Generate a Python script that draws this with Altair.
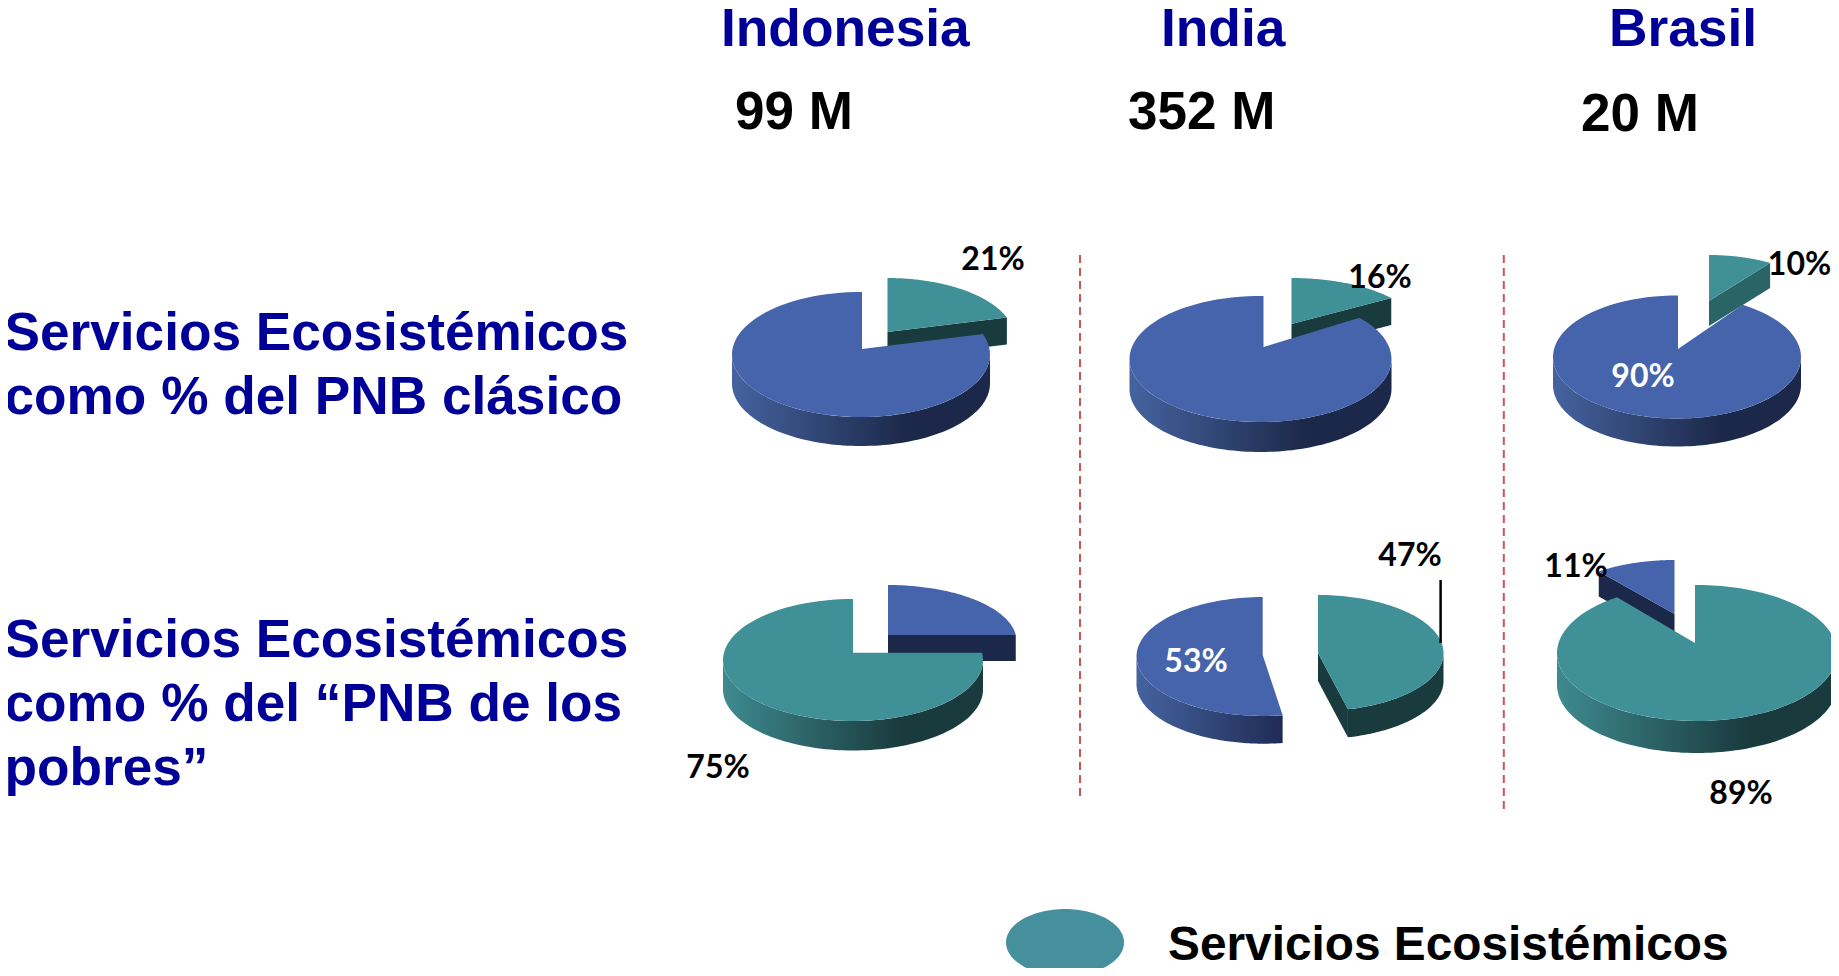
import math
import altair as alt
import pandas as pd

PAGE = 8
COUNTRIES = ["Indonesia", "India", "Brasil"]
POPULATIONS = ["99 M", "352 M", "20 M"]
ROW_TOP = ["Servicios Ecosistémicos", "como % del PNB clásico"]
ROW_BOTTOM = ["Servicios Ecosistémicos", "como % del “PNB de los", "pobres”"]
LEGEND_TEXT = "Servicios Ecosistémicos"

# share of ecosystem services (%) per pie, as printed or implied by the slices
SHARE_CLASSIC = [21, 16, 10]
SHARE_POOR = [25, 47, 89]

BLUE, TEAL = "#4664AB", "#3F9197"
BLUE_D, TEAL_D, TEAL_M = "#1C2849", "#193B3E", "#2A6466"
NAVY = "#000099"
LEGEND_TEAL = "#45909C"
RED = "#CC5555"


def ray_param(pie, a_deg):
    """Ellipse angle hit by the ray leaving the pie vertex at pie angle a."""
    vx, vy, cx, cy, rx, ry = pie[:6]
    a = math.radians(a_deg)
    qx, qy = (vx - cx) / rx, (vy - cy) / ry
    dx, dy = math.sin(a), -math.cos(a)
    qd = qx * dx + qy * dy
    s = -qd + math.sqrt(max(qd * qd - qx * qx - qy * qy + 1, 0))
    t = math.degrees(math.atan2(qx + s * dx, -(qy + s * dy)))
    return t % 360


def pt(pie, t):
    r = math.radians(t)
    return (pie[2] + pie[4] * math.sin(r), pie[3] - pie[5] * math.cos(r))


def arc(pie, t1, t2, n=90):
    return [pt(pie, t1 + (t2 - t1) * i / n) for i in range(n + 1)]


def limits(pie, a1, a2):
    t1 = ray_param(pie, a1 % 360)
    t2 = ray_param(pie, a2 % 360)
    if a1 % 360 == 0 and t1 > 180:
        t1 -= 360
    if t2 <= t1:
        t2 += 360
    return t1, t2


def shape(points, **mark):
    ring = [[x - PAGE, y - PAGE] for x, y in points]
    ring.append(ring[0])
    feature = {"type": "Feature", "properties": {},
               "geometry": {"type": "Polygon", "coordinates": [ring]}}
    return (alt.Chart(alt.Data(values=[feature]))
            .mark_geoshape(strokeWidth=0, **mark)
            .project(type="identity", scale=1, translate=[0, 0]))


def gradient(colors, dark_at):
    return alt.Gradient(gradient="linear", x1=0, x2=1, y1=0, y2=0, stops=[
        alt.GradientStop(color=colors[0], offset=0),
        alt.GradientStop(color=colors[1], offset=dark_at),
        alt.GradientStop(color=colors[1], offset=1),
    ])


def slice_layers(pie, a1, a2, color, dark, side=True, cut=None, dark_at=0.68):
    """pie = vertex x, y, ellipse cx, cy, rx, ry, depth"""
    vx, vy, depth = pie[0], pie[1], pie[6]
    t1, t2 = limits(pie, a1, a2)
    out = []
    if side:
        lo, hi = max(t1, 90), min(t2, 270)
        if hi > lo:
            rim = arc(pie, lo, hi)
            band = rim + [(x, y + depth) for x, y in reversed(rim)]
            light = "#45639F" if color == BLUE else "#3E8A8F"
            out.append(shape(band, fill=gradient((light, dark), dark_at) if hi - lo > 90 else dark))
    if cut is not None:
        e = pt(pie, t2)
        out.append(shape([(vx, vy), e, (e[0], e[1] + depth), (vx, vy + depth)], fill=dark))
    out.append(shape([(vx, vy)] + arc(pie, t1, t2), fill=color))
    return out


def wedge_layers(pie, a1, a2, color, dark):
    vx, vy, depth = pie[0], pie[1], pie[6]
    t1, t2 = limits(pie, a1, a2)
    # front face runs along whichever edge looks towards the viewer
    e = pt(pie, t2 if a1 == 0 else t1)
    return [shape([(vx, vy), e, (e[0], e[1] + depth), (vx, vy + depth)], fill=dark),
            shape([(vx, vy)] + arc(pie, t1, t2), fill=color)]


def rule(x1, y1, x2, y2, color, width, dash=None):
    kw = {"strokeDash": dash} if dash else {}
    return alt.Chart(pd.DataFrame({"v": [0]})).mark_rule(
        color=color, strokeWidth=width, **kw
    ).encode(x=alt.value(x1 - PAGE), y=alt.value(y1 - PAGE),
             x2=alt.value(x2 - PAGE), y2=alt.value(y2 - PAGE))


def label(text, x, y, size, color="black", font="Liberation Sans", align="left"):
    return alt.Chart(pd.DataFrame({"t": [text]})).mark_text(
        font=font, fontSize=size, fontWeight="bold", color=color, align=align,
        baseline="alphabetic"
    ).encode(text="t:N", x=alt.value(x - PAGE), y=alt.value(y - PAGE))


def pct(v):
    return v * 3.6


layers = []

# top row: pie geometry is  vx, vy, cx, cy, rx, ry, depth
s = pct(SHARE_CLASSIC[0])
layers += wedge_layers((887.5, 332, 887.5, 338, 127, 60, 27), 0, s, TEAL, TEAL_D)
layers += slice_layers((862, 349, 861, 354.5, 129, 62.5, 29), s, 360, BLUE, BLUE_D)

s = pct(SHARE_CLASSIC[1])
layers += wedge_layers((1291.5, 324, 1291, 330, 127, 52, 27), 0, s, TEAL, TEAL_D)
layers += slice_layers((1263.5, 347, 1260.5, 359, 131, 63, 30), s, 360, BLUE, BLUE_D)

s = pct(SHARE_CLASSIC[2])
layers += wedge_layers((1709, 301, 1709, 307, 115, 52, 25), 0, s, TEAL, TEAL_M)
layers += slice_layers((1678, 349, 1677, 357, 124, 61.5, 28), s, 360, BLUE, BLUE_D)

# bottom row
s = pct(SHARE_POOR[0])
layers += wedge_layers((888, 635, 888, 641, 128.5, 56, 26), 0, s, BLUE, BLUE_D)
layers += slice_layers((853, 652.7, 853, 660, 130, 61, 29.5), s, 360, TEAL, TEAL_D)

# the perspective of the drawing pulls the two cut edges of this pie apart a little
s = pct(SHARE_POOR[1])
layers += slice_layers((1318, 653, 1318, 653, 125.5, 58, 28), 0, s - 3, TEAL, TEAL_D, cut="end")
layers += slice_layers((1262.7, 655, 1263.5, 656.5, 127, 59.5, 27.7), s + 2, 360, BLUE, "#1F2B55", dark_at=1)

s = pct(SHARE_POOR[2])
layers += wedge_layers((1674.5, 614, 1674.5, 620, 129, 60, 25), s, 360, BLUE, BLUE_D)
layers += slice_layers((1695, 643, 1697, 653, 140, 68, 32), 0, s, TEAL, TEAL_D)

# legend swatch
layers.append(shape(arc((0, 0, 1065, 942.5, 59, 33.5), 0, 360, 120), fill=LEGEND_TEAL))

# separators and leader line
layers.append(rule(1080, 255, 1080, 797, RED, 2, [8, 5]))
layers.append(rule(1503.8, 255, 1503.8, 809, RED, 2, [8, 5]))
layers.append(rule(1440.6, 580, 1440.6, 643, "black", 2.5))

# headers
for text, x in zip(COUNTRIES, [721, 1161, 1609]):
    layers.append(label(text, x, 45.5, 53.3, NAVY))
for text, x, y in zip(POPULATIONS, [735, 1128, 1581], [129, 129, 131]):
    layers.append(label(text, x, y, 53))

# row titles
for text, y in zip(ROW_TOP, [350, 414]):
    layers.append(label(text, 4.5, y, 53.2, NAVY))
for text, y in zip(ROW_BOTTOM, [657, 721, 785]):
    layers.append(label(text, 4.5, y, 53.2, NAVY))

# percentage labels
PCT_FONT = "Lato"
for text, x, y, c in [
    ("21%", 993, 270, "black"), ("16%", 1380, 288, "black"), ("10%", 1799.5, 275, "black"),
    ("90%", 1643, 387, "white"), ("75%", 718, 778, "black"), ("53%", 1196, 671.5, "white"),
    ("47%", 1410, 565.5, "black"), ("11%", 1576, 576.5, "black"), ("89%", 1741, 804, "black"),
]:
    layers.append(label(text, x, y, 32, c, PCT_FONT, "center"))

layers.append(label(LEGEND_TEXT, 1168, 960, 47.8))

chart = (alt.layer(*layers)
         .properties(width=1823, height=960, padding=0,
                     autosize=alt.AutoSizeParams(type="none"), background="white")
         .configure_view(stroke=None))

chart.save("out.html", embed_options={"renderer": "svg", "actions": False})
